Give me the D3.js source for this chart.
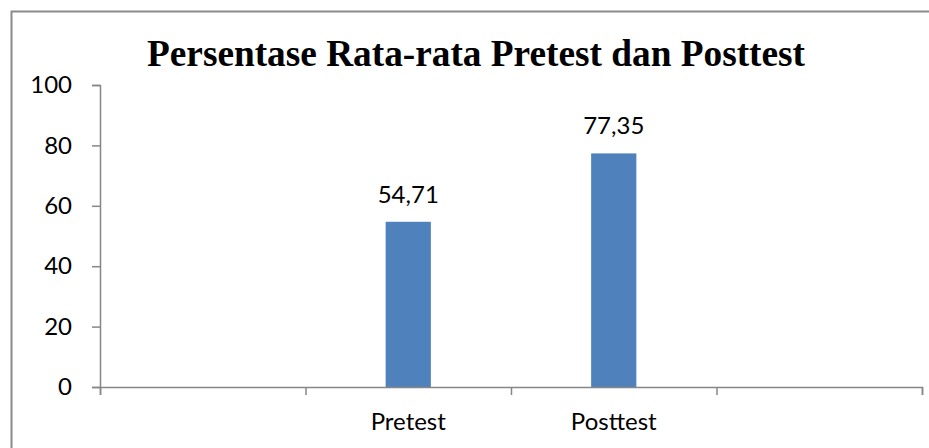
<!DOCTYPE html>
<html><head><meta charset="utf-8">
<script src="https://cdn.jsdelivr.net/npm/d3@7"></script>
<style>html,body{margin:0;padding:0;background:#fff;}svg{display:block;}</style>
</head><body>
<svg id="chart" width="929" height="448"></svg>
<script>
const title = "Persentase Rata-rata Pretest dan Posttest";
const categories = ["", "Pretest", "Posttest", ""];
const values = [null, 54.71, 77.35, null];
const valueLabels = ["", "54,71", "77,35", ""];
const yTicks = [0, 20, 40, 60, 80, 100];

const labelFont = "Lato, 'Open Sans', sans-serif";
const labelSize = 24;
const svg = d3.select("#chart");

// outer frame
svg.append("rect").attr("x", 11.5).attr("y", 11.5).attr("width", 1000).attr("height", 1000)
  .attr("fill", "none").attr("stroke", "#8a8a8a").attr("stroke-width", 2);

const y = d3.scaleLinear().domain([0, 100]).range([387, 85]);
const idx = d3.range(categories.length);
const xb = d3.scaleBand().domain(idx).range([100, 922]).padding(0);
const xl = d3.scaleLinear().domain([0, categories.length]).range([100, 922]);

// title
svg.append("text").attr("x", 476).attr("y", 66).attr("text-anchor", "middle")
  .attr("font-family", "'Liberation Serif', 'Times New Roman', serif").attr("font-weight", "bold")
  .attr("font-size", 37.3).attr("fill", "#000").text(title);

// y axis
const yAxis = svg.append("g").attr("transform", "translate(100,0)")
  .call(d3.axisLeft(y).tickValues(yTicks).tickSize(8).tickPadding(20));
yAxis.select(".domain").attr("stroke", "#868686").attr("stroke-width", 1.5);
yAxis.selectAll(".tick line").attr("stroke", "#868686").attr("stroke-width", 1.5);
yAxis.selectAll(".tick text").attr("font-family", labelFont).attr("font-size", labelSize).attr("fill", "#000");

// bars
const bw = xb.bandwidth() * 0.22;
svg.append("g").selectAll("rect").data(idx.filter(i => values[i] != null)).join("rect")
  .attr("x", i => xb(i) + xb.bandwidth() / 2 - bw / 2)
  .attr("width", bw)
  .attr("y", i => y(values[i]))
  .attr("height", i => y(0) - y(values[i]))
  .attr("fill", "#4F81BD");

// value labels
svg.append("g").selectAll("text").data(idx.filter(i => values[i] != null)).join("text")
  .attr("x", i => xb(i) + xb.bandwidth() / 2)
  .attr("y", i => y(values[i]) - 19)
  .attr("text-anchor", "middle").attr("font-family", labelFont).attr("font-size", labelSize)
  .attr("fill", "#000").text(i => valueLabels[i]);

// x axis (ticks at category boundaries)
const xAxis = svg.append("g").attr("transform", "translate(0,387)")
  .call(d3.axisBottom(xl).tickValues(d3.range(categories.length + 1)).tickSize(8).tickFormat(""));
xAxis.select(".domain").attr("stroke", "#868686").attr("stroke-width", 1.5);
xAxis.selectAll(".tick line").attr("stroke", "#868686").attr("stroke-width", 1.5);

svg.append("g").selectAll("text").data(idx).join("text")
  .attr("x", i => xb(i) + xb.bandwidth() / 2).attr("y", 430)
  .attr("text-anchor", "middle").attr("font-family", labelFont).attr("font-size", labelSize)
  .attr("fill", "#000").text(i => categories[i]);
</script>
</body></html>
